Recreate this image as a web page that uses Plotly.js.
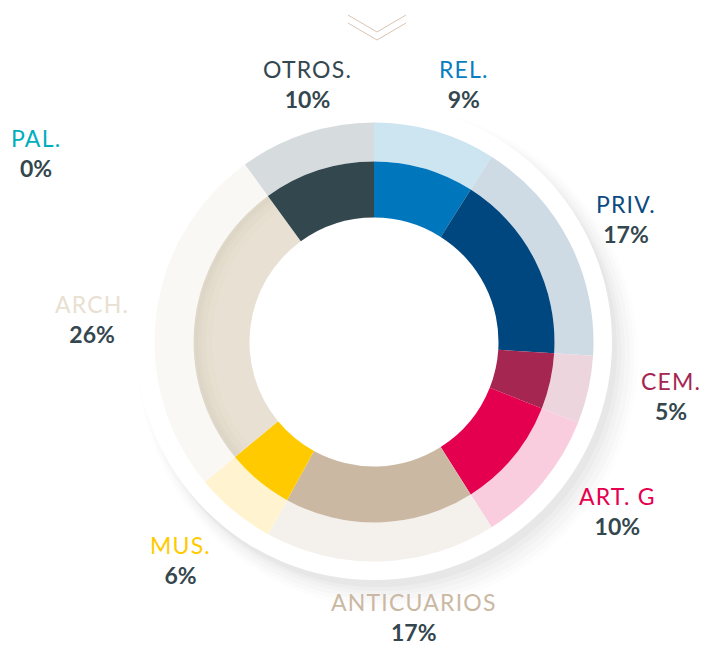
<!DOCTYPE html>
<html><head><meta charset="utf-8">
<script src="https://cdn.plot.ly/plotly-3.0.1.min.js"></script>
<style>html,body{margin:0;padding:0;background:#fff;}#chart{width:704px;height:646px;}</style>
</head><body><div id="chart"></div>
<script>
// ---- data ----
const categories = ["REL.", "PRIV.", "CEM.", "ART. G", "ANTICUARIOS", "MUS.", "PAL.", "ARCH.", "OTROS."];
const shares = [9, 17, 5, 10, 17, 6, 0, 26, 10];

// ---- styles ----
const innerColors = ["#0077bd", "#00467f", "#a52651", "#e5004f", "#cbb8a3", "#ffcb00", "#00aebd", "#e8e0d2", "#33474f"];
const outerColors = ["#cde5f1", "#cedbe5", "#edd5dd", "#f9cddd", "#f4f1ec", "#fff4cf", "#d5eef1", "#f9f8f5", "#d6dbde"];
const labelColors = ["#0a7dc1", "#0b4a80", "#a52651", "#e5004f", "#cbb8a3", "#ffcb00", "#00aebd", "#e8e0d1", "#34474f"];
const bandAlpha = [0, 0, 0, 0, 0, 0, 0, 1, 0];
const labelPos = [[464, 84], [626, 219], [671, 396], [617, 511], [414, 617], [180, 560], [36, 153], [92, 319], [307, 84]];

const W = 704, H = 646, CX = 374, CY = 342;
function dom(r, dx, dy) {
  dx = dx || 0; dy = dy || 0;
  return { x: [(CX + dx - r) / W, (CX + dx + r) / W], y: [1 - (CY + dy + r) / H, 1 - (CY + dy - r) / H] };
}

const traces = [];
// soft shadow of rim (toward bottom-right)
const shadowSteps = [[250, 14, 16, 0.012], [247, 13, 15, 0.015], [244, 12, 14, 0.018], [241, 10, 12, 0.02], [239, 8, 10, 0.025], [238, 5, 7, 0.03]];
shadowSteps.forEach(s => {
  traces.push({ type: "pie", values: [1], labels: ["s"], domain: dom(s[0], s[1], s[2]), sort: false,
    marker: { colors: ["rgba(50,50,50," + s[3] + ")"], line: { width: 0 } }, textinfo: "none", hoverinfo: "skip", showlegend: false });
});
// white rim
traces.push({ type: "pie", values: [1], labels: ["rim"], domain: dom(238), sort: false,
  marker: { colors: ["#ffffff"], line: { width: 0 } }, textinfo: "none", hoverinfo: "skip", showlegend: false });
// outer ring
traces.push({ type: "pie", values: shares, labels: categories, domain: dom(219.5), hole: 180.5 / 219.5,
  sort: false, direction: "clockwise", rotation: 0,
  marker: { colors: outerColors, line: { width: 0 } }, textinfo: "none", showlegend: false });
// inner ring
traces.push({ type: "pie", values: shares, labels: categories, domain: dom(180.5), hole: 124.5 / 180.5,
  sort: false, direction: "clockwise", rotation: 0,
  marker: { colors: innerColors, line: { width: 0 } }, textinfo: "none", showlegend: false });
// inner-shadow shading on the large beige slice
[[180.5, 162, 0.012], [180.5, 168, 0.014], [180.5, 173, 0.016], [179, 176, 0.015]].forEach(b => {
  traces.push({ type: "pie", values: shares, labels: categories, domain: dom(b[0]), hole: b[1] / b[0],
    sort: false, direction: "clockwise", rotation: 0,
    marker: { colors: bandAlpha.map(a => "rgba(90,70,40," + (a * b[2]) + ")"), line: { width: 0 } },
    textinfo: "none", hoverinfo: "skip", showlegend: false });
});

const annotations = categories.map((c, i) => ({
  x: labelPos[i][0] / W, y: 1 - labelPos[i][1] / H, xref: "paper", yref: "paper",
  xanchor: "center", yanchor: "middle", showarrow: false, align: "center",
  text: '<span style="color:' + labelColors[i] + ';letter-spacing:1.2px">' + c + '</span><br><b>' + shares[i] + '%</b>',
  font: { family: "Lato, 'Noto Sans', sans-serif", size: 23, color: "#34474f" }
}));

const chev = "#d9c5b3";
const shapes = [
  { type: "path", xref: "paper", yref: "paper", path: "M " + (348 / W) + " " + (1 - 15 / H) + " L " + (377 / W) + " " + (1 - 32 / H) + " L " + (406 / W) + " " + (1 - 15 / H), line: { color: chev, width: 1 } },
  { type: "path", xref: "paper", yref: "paper", path: "M " + (348 / W) + " " + (1 - 23 / H) + " L " + (377 / W) + " " + (1 - 40 / H) + " L " + (406 / W) + " " + (1 - 23 / H), line: { color: chev, width: 1 } }
];

Plotly.newPlot("chart", traces, {
  width: W, height: H, margin: { l: 0, r: 0, t: 0, b: 0 },
  paper_bgcolor: "#ffffff", plot_bgcolor: "#ffffff",
  showlegend: false, annotations: annotations, shapes: shapes
}, { staticPlot: true });
</script></body></html>
